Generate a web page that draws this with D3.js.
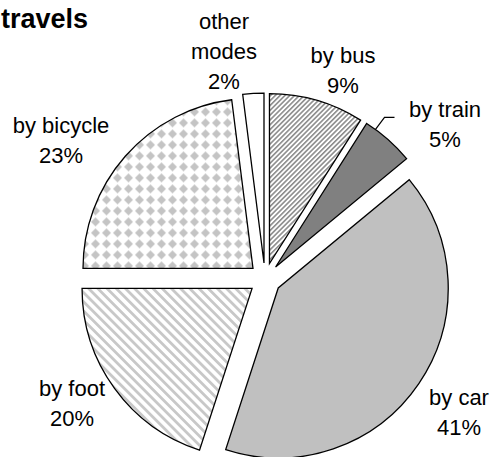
<!DOCTYPE html>
<html>
<head>
<meta charset="utf-8">
<script src="https://cdn.jsdelivr.net/npm/d3@7"></script>
<style>
  html, body { margin: 0; padding: 0; background: #fff; }
  svg { display: block; }
  text { font-family: "Liberation Sans", Arial, sans-serif; fill: #000; }
</style>
</head>
<body>
<svg id="chart" width="492" height="457"></svg>
<script>
// ---- data ----
const categories = ["by bus", "by train", "by car", "by foot", "by bicycle", "other modes"];
const shares = [9, 5, 41, 20, 23, 2];
const labelLines = [["by bus", "9%"], ["by train", "5%"], ["by car", "41%"], ["by foot", "20%"], ["by bicycle", "23%"], ["other", "modes", "2%"]];
const titleText = "travels";

// ---- layout ----
const W = 492, H = 457;
const cx = 265, cy = 279, R = 170, explode = 16;
const fills = ["url(#pBus)", "#808080", "#c0c0c0", "url(#pFoot)", "url(#pBike)", "#ffffff"];
// label anchor (center x, first baseline y), in page pixels
const labelPos = [[343, 63], [445, 117], [459, 405], [72, 396], [61, 133], [224, 29]];
const lineGap = 30;

const svg = d3.select("#chart");
const defs = svg.append("defs");

// bus: dense downward diagonal stripes
const pBus = defs.append("pattern").attr("id", "pBus").attr("patternUnits", "userSpaceOnUse")
  .attr("width", 3.4).attr("height", 3.4).attr("patternTransform", "rotate(45)");
pBus.append("rect").attr("width", 3.4).attr("height", 3.4).attr("fill", "#fff");
pBus.append("rect").attr("width", 1.6).attr("height", 3.4).attr("fill", "#8c8c8c");

// foot: wide upward diagonal stripes, light gray
const pFoot = defs.append("pattern").attr("id", "pFoot").attr("patternUnits", "userSpaceOnUse")
  .attr("width", 6.5).attr("height", 6.5).attr("patternTransform", "rotate(-45)");
pFoot.append("rect").attr("width", 6.5).attr("height", 6.5).attr("fill", "#fff");
pFoot.append("rect").attr("width", 2.8).attr("height", 6.5).attr("fill", "#c8c8c8");

// bicycle: grid of gray diamonds
const pBike = defs.append("pattern").attr("id", "pBike").attr("patternUnits", "userSpaceOnUse")
  .attr("width", 11).attr("height", 11).attr("patternTransform", "translate(2,3)");
pBike.append("rect").attr("width", 11).attr("height", 11).attr("fill", "#fff");
pBike.append("path").attr("d", "M5.5,1 L10,5.5 L5.5,10 L1,5.5 Z").attr("fill", "#c4c4c4");

const pie = d3.pie().sort(null).value(d => d.v).startAngle(0).endAngle(2 * Math.PI);
const arc = d3.arc().innerRadius(0).outerRadius(R);
const data = categories.map((c, i) => ({ c, v: shares[i], i }));
const arcs = pie(data);

const g = svg.append("g").attr("transform", `translate(${cx},${cy})`);
g.selectAll("path.slice").data(arcs).join("path")
  .attr("class", "slice")
  .attr("d", arc)
  .attr("transform", d => {
    const a = (d.startAngle + d.endAngle) / 2;
    return `translate(${explode * Math.sin(a)},${-explode * Math.cos(a)})`;
  })
  .attr("fill", d => fills[d.data.i])
  .attr("stroke", "#000")
  .attr("stroke-width", 1.3)
  .attr("stroke-linejoin", "miter");

// labels
const lg = svg.append("g");
labelLines.forEach((lines, i) => {
  const t = lg.append("text")
    .attr("text-anchor", "middle")
    .attr("font-size", 22);
  lines.forEach((ln, k) => {
    t.append("tspan").attr("x", labelPos[i][0]).attr("y", labelPos[i][1] + k * lineGap).text(ln);
  });
});

// leader line for the train label
const trainArc = arcs[1];
const tMid = (trainArc.startAngle + trainArc.endAngle) / 2;
const ex = cx + explode * Math.sin(tMid), ey = cy - explode * Math.cos(tMid);
const la = trainArc.startAngle + (trainArc.endAngle - trainArc.startAngle) * 0.2;
const sx = ex + R * Math.sin(la), sy = ey - R * Math.cos(la);
svg.append("path")
  .attr("d", d3.line()([[sx, sy], [sx + 9, sy - 12], [sx + 19, sy - 12]]))
  .attr("fill", "none").attr("stroke", "#000").attr("stroke-width", 1.2);

// title (clipped at left in the reference)
svg.append("text")
  .attr("x", 88).attr("y", 28)
  .attr("text-anchor", "end")
  .attr("font-size", 27)
  .attr("font-weight", "bold")
  .text(titleText);
</script>
</body>
</html>
